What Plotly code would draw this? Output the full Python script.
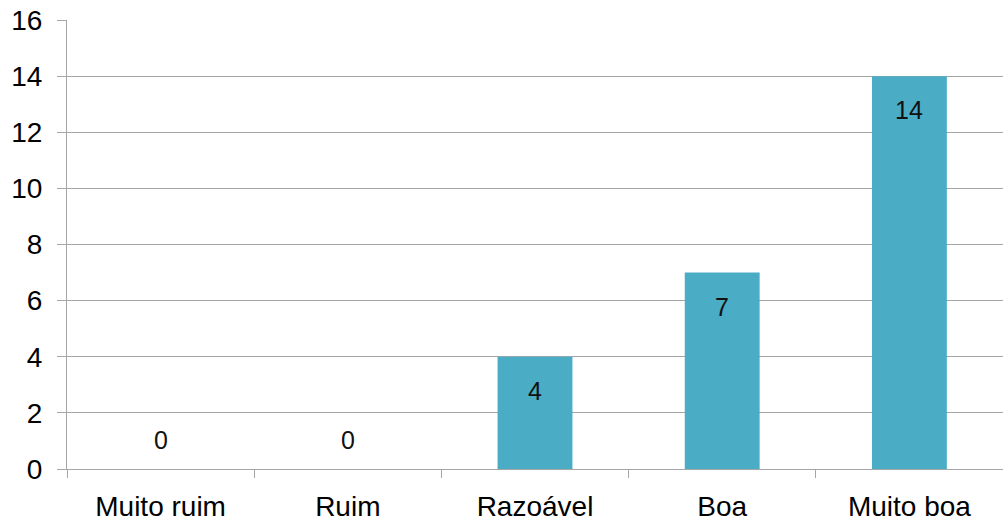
import plotly.graph_objects as go

categories = ["Muito ruim", "Ruim", "Razoável", "Boa", "Muito boa"]
counts = [0, 0, 4, 7, 14]
y_ticks = [0, 2, 4, 6, 8, 10, 12, 14, 16]

bar_color = "#4BACC6"
grid_color = "#A6A6A6"

fig = go.Figure()
fig.add_trace(go.Bar(
    x=categories,
    y=counts,
    marker=dict(color=bar_color, line=dict(width=0)),
    width=0.4,
    hoverinfo="x+y",
))

# Value labels: inside the top of non-empty bars, above the baseline for zeros
for cat, val in zip(categories, counts):
    fig.add_annotation(
        x=cat, y=val, text=str(val), showarrow=False,
        yshift=-34 if val > 0 else 29,
        font=dict(family="Liberation Sans, Arial, sans-serif", size=25, color="#111111"),
    )

fig.update_layout(
    width=1003, height=523,
    margin=dict(l=67, r=0, t=20, b=54),
    paper_bgcolor="white", plot_bgcolor="white",
    showlegend=False,
    bargap=0.6,
    font=dict(family="Liberation Sans, Arial, sans-serif", color="#000000"),
)
fig.update_yaxes(
    range=[0, 16], tickvals=y_ticks,
    showgrid=True, gridcolor=grid_color, gridwidth=1,
    showline=True, linecolor=grid_color, linewidth=1,
    ticks="outside", ticklen=9, tickcolor=grid_color,
    ticklabelstandoff=9,
    tickfont=dict(size=28),
    zeroline=False,
)
fig.update_xaxes(
    range=[-0.5, 4.5],
    showline=True, linecolor=grid_color, linewidth=1,
    ticks="outside", ticklen=8, tickcolor=grid_color,
    tickson="boundaries",
    ticklabelstandoff=12,
    tickfont=dict(size=28),
    showgrid=False,
)

fig.write_html("out.html")
